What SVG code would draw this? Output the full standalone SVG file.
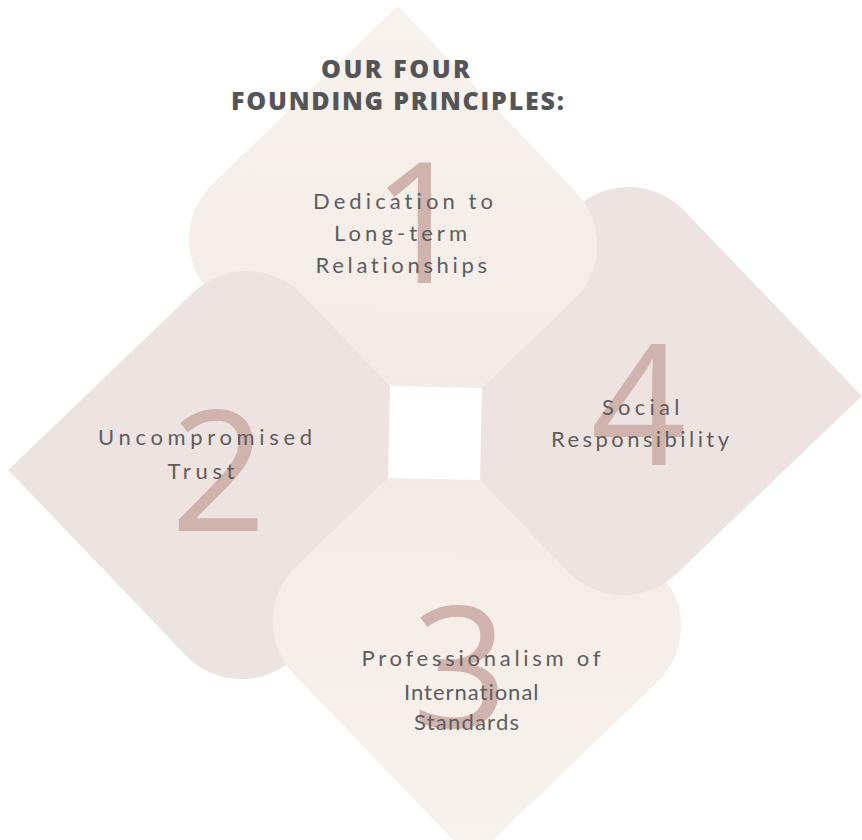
<svg xmlns="http://www.w3.org/2000/svg" xmlns:xlink="http://www.w3.org/1999/xlink" width="862" height="840" viewBox="0 0 862 840">
  <style>
    .cream { fill: url(#gcream); }
    .rose { fill: #EDE4E2; }
    .digit { font-family: "Open Sans", "Liberation Sans", sans-serif; font-size: 168px; fill: #CFB3AC; text-anchor: middle; }
    .label { font-family: "Lato", "Liberation Sans", sans-serif; font-size: 22px; fill: #5D5D5F; font-variant-ligatures: none; font-feature-settings: "liga" 0; }
    .title { font-family: "Open Sans", "Liberation Sans", sans-serif; font-size: 25px; font-weight: 800; fill: #555557; }
  </style>
  <defs>
    <linearGradient id="gcream" x1="0" y1="0" x2="0" y2="1">
      <stop offset="0" stop-color="#F8F2EC"/>
      <stop offset="1" stop-color="#F2EAE5"/>
    </linearGradient>
    <path id="petal" d="M -46 -426 L 135.55 -244.45 A 77 77 0 0 1 135.55 -135.55 L -46 46 L -227.55 -135.55 A 77 77 0 0 1 -227.55 -244.45 Z"/>
    <clipPath id="clip3over2" clipPathUnits="userSpaceOnUse">
      <polygon points="-6.5,-3.5 48.5,51.5 -450,550 -505,495" transform="translate(435 433) rotate(1.2)"/>
    </clipPath>
  </defs>
  <rect width="862" height="840" fill="#FFFFFF"/>

  <g id="node-3">
    <use xlink:href="#petal" href="#petal" class="cream" transform="translate(435 433) rotate(181.2)"/>
    <text class="digit" x="460" y="727">3</text>
    <text class="label" x="361.5" y="666" textLength="239" lengthAdjust="spacing">Professionalism of</text>
    <text class="label" x="404" y="699.5" textLength="134.5" lengthAdjust="spacing">International</text>
    <text class="label" x="414" y="730" textLength="105" lengthAdjust="spacing">Standards</text>
  </g>

  <g id="node-4">
    <use xlink:href="#petal" href="#petal" class="rose" transform="translate(435 433) rotate(91.2)"/>
    <text class="digit" x="638.5" y="465">4</text>
    <text class="label" x="602" y="415" textLength="77.5" lengthAdjust="spacing">Social</text>
    <text class="label" x="551" y="447" textLength="178" lengthAdjust="spacing">Responsibility</text>
  </g>

  <g id="node-1">
    <use xlink:href="#petal" href="#petal" class="cream" transform="translate(435 433) rotate(1.2)"/>
    <text class="digit" x="420" y="283">1</text>
    <text class="label" x="313" y="209" textLength="180" lengthAdjust="spacing">Dedication to</text>
    <text class="label" x="334" y="241" textLength="133" lengthAdjust="spacing">Long-term</text>
    <text class="label" x="315.5" y="273" textLength="171.5" lengthAdjust="spacing">Relationships</text>
  </g>

  <g id="node-2">
    <use xlink:href="#petal" href="#petal" class="rose" transform="translate(435 433) rotate(-88.8)"/>
    <text class="digit" x="218.5" y="531">2</text>
    <text class="label" x="98" y="445" textLength="214" lengthAdjust="spacing">Uncompromised</text>
    <text class="label" x="167.5" y="478.5" textLength="67" lengthAdjust="spacing">Trust</text>
  </g>

  <g id="petal-3-overlap" clip-path="url(#clip3over2)">
    <use xlink:href="#petal" href="#petal" class="cream" transform="translate(435 433) rotate(181.2)"/>
  </g>

  <g id="center">
    <rect x="-46" y="-46" width="92" height="92" fill="#FFFFFF" transform="translate(435 433) rotate(1.2)"/>
  </g>

  <g id="title">
    <text class="title" x="321" y="78" textLength="149" lengthAdjust="spacing">OUR FOUR</text>
    <text class="title" x="231" y="110" textLength="333" lengthAdjust="spacing">FOUNDING PRINCIPLES:</text>
  </g>
</svg>
